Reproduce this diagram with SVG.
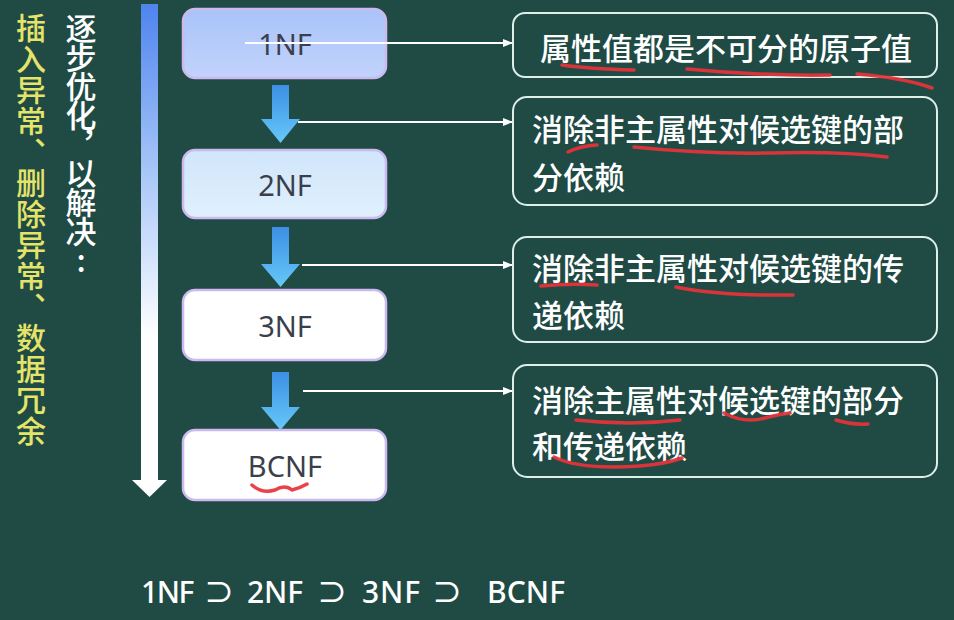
<svg xmlns="http://www.w3.org/2000/svg" width="954" height="620" viewBox="0 0 954 620">
  <defs>
    <linearGradient id="bigArrow" x1="0" y1="0" x2="0" y2="1">
      <stop offset="0" stop-color="#4f84ee"/>
      <stop offset="0.35" stop-color="#a7c6f8"/>
      <stop offset="0.7" stop-color="#ffffff"/>
      <stop offset="1" stop-color="#ffffff"/>
    </linearGradient>
    <linearGradient id="stepArrow" x1="0" y1="0" x2="0" y2="1">
      <stop offset="0" stop-color="#3d8fe4"/>
      <stop offset="1" stop-color="#66c8f8"/>
    </linearGradient>
    <linearGradient id="fill1" x1="0" y1="0" x2="0" y2="1">
      <stop offset="0" stop-color="#a9c3f8"/>
      <stop offset="1" stop-color="#c2d3fc"/>
    </linearGradient>
    <linearGradient id="fill2" x1="0" y1="0" x2="0" y2="1">
      <stop offset="0" stop-color="#d0e6fb"/>
      <stop offset="1" stop-color="#e0f0fd"/>
    </linearGradient>
    <marker id="tip" markerWidth="10" markerHeight="8" refX="9" refY="4" orient="auto" markerUnits="userSpaceOnUse">
      <path d="M0,0 L10,4 L0,8 Z" fill="#ffffff"/>
    </marker>
    <style>
      .nf { stroke: #cbb9f0; stroke-width: 2.5; }
      .nfText { font-family: "Noto Sans", "Open Sans", sans-serif; font-size: 29px; fill: #3b3f4c; text-anchor: middle; }
      .desc { fill: none; stroke: #dcefe8; stroke-width: 2; }
      .descText { font-family: "Noto Sans CJK SC", "Noto Sans", sans-serif; font-size: 31px; font-weight: 500; fill: #ffffff; }
      .link { stroke: #ffffff; stroke-width: 1.8; fill: none; }
      .ink { fill: none; stroke: #e8323a; stroke-width: 3.5; stroke-linecap: round; stroke-linejoin: round; opacity: 0.92; }
      .vert { font-family: "Noto Sans CJK SC", sans-serif; font-weight: 500; writing-mode: vertical-rl; text-orientation: upright; }
      .bottom { font-family: "Noto Sans", "Noto Sans CJK SC", sans-serif; font-size: 30px; font-weight: 500; fill: #ffffff; }
    </style>
  </defs>

  <!-- board background -->
  <rect width="954" height="620" fill="#204b45"/>

  <!-- side captions -->
  <text class="vert" x="31" y="13" font-size="30" fill="#e4e46a" letter-spacing="1">插入异常、删除异常、数据冗余</text>
  <text class="vert" x="81" y="13" font-size="31" fill="#ffffff" letter-spacing="-2">逐步优化，以解决:</text>

  <!-- long progression arrow -->
  <g id="progress">
    <rect x="141" y="4" width="17" height="477" fill="url(#bigArrow)"/>
    <path d="M132,480 L167,480 L149.5,497 Z" fill="#ffffff"/>
  </g>

  <!-- normal-form nodes -->
  <g id="nf1">
    <rect class="nf" x="183" y="9" width="203" height="69" rx="12" fill="url(#fill1)"/>
    <text class="nfText" x="285" y="55">1NF</text>
  </g>
  <g id="nf2">
    <rect class="nf" x="183" y="150" width="203" height="68" rx="12" fill="url(#fill2)"/>
    <text class="nfText" x="285" y="196">2NF</text>
  </g>
  <g id="nf3">
    <rect class="nf" x="183" y="290" width="203" height="70" rx="12" fill="#ffffff"/>
    <text class="nfText" x="285" y="337">3NF</text>
  </g>
  <g id="bcnf">
    <rect class="nf" x="183" y="430" width="203" height="70" rx="12" fill="#ffffff"/>
    <text class="nfText" x="285" y="477">BCNF</text>
  </g>

  <!-- step arrows between nodes -->
  <g id="steps">
    <path d="M272,85 H289 V119 H300 L280.5,143 L261,119 H272 Z" fill="url(#stepArrow)"/>
    <path d="M272,227 H289 V264 H300 L280.5,287 L261,264 H272 Z" fill="url(#stepArrow)"/>
    <path d="M272,372 H289 V407 H300 L280.5,430 L261,407 H272 Z" fill="url(#stepArrow)"/>
  </g>

  <!-- description nodes -->
  <g id="descAtomic">
    <rect class="desc" x="513" y="13" width="424" height="64" rx="12" stroke="#8fc49c"/>
    <text class="descText" x="540" y="60">属性值都是不可分的原子值</text>
  </g>
  <g id="descPartial">
    <rect class="desc" x="513" y="97" width="424" height="108" rx="14"/>
    <text class="descText" x="532" y="141">消除非主属性对候选键的部</text>
    <text class="descText" x="532" y="189">分依赖</text>
  </g>
  <g id="descTransitive">
    <rect class="desc" x="513" y="237" width="424" height="105" rx="14"/>
    <text class="descText" x="532" y="280">消除非主属性对候选键的传</text>
    <text class="descText" x="532" y="327">递依赖</text>
  </g>
  <g id="descBC">
    <rect class="desc" x="513" y="365" width="424" height="112" rx="14"/>
    <text class="descText" x="532" y="412">消除主属性对候选键的部分</text>
    <text class="descText" x="532" y="458">和传递依赖</text>
  </g>

  <!-- connectors -->
  <g id="connectors">
    <line class="link" x1="245" y1="43" x2="512" y2="43" marker-end="url(#tip)"/>
    <line class="link" x1="298" y1="122" x2="512" y2="122" marker-end="url(#tip)"/>
    <line class="link" x1="302" y1="265" x2="512" y2="265" marker-end="url(#tip)"/>
    <line class="link" x1="303" y1="391" x2="512" y2="391" marker-end="url(#tip)"/>
  </g>

  <!-- handwritten red underlines -->
  <g id="annotations">
    <path class="ink" d="M562,65 Q590,69 634,70"/>
    <path class="ink" d="M687,69 Q760,76 830,75"/>
    <path class="ink" d="M857,74 Q905,78 932,88"/>
    <path class="ink" d="M568,152 Q580,146 597,145"/>
    <path class="ink" d="M634,147 Q700,154 770,153 Q840,151 887,157"/>
    <path class="ink" d="M541,286 Q570,283 597,285"/>
    <path class="ink" d="M676,287 Q720,296 793,295"/>
    <path class="ink" d="M576,420 Q630,426 680,420"/>
    <path class="ink" d="M724,413 Q745,424 765,418 Q780,414 790,413"/>
    <path class="ink" d="M836,420 Q852,425 868,424"/>
    <path class="ink" d="M554,457 Q580,470 640,466 Q665,464 682,458"/>
    <path class="ink" d="M252,485 Q262,494 275,490 Q285,484 292,490 Q300,488 307,484" stroke-width="2"/>
  </g>

  <!-- containment chain -->
  <g id="chain">
    <text class="bottom" x="141" y="603" letter-spacing="-1.5">1NF</text>
    <text class="bottom" x="204" y="603">⊃</text>
    <text class="bottom" x="247" y="603" textLength="56">2NF</text>
    <text class="bottom" x="317" y="603">⊃</text>
    <text class="bottom" x="362" y="603" textLength="58">3NF</text>
    <text class="bottom" x="432" y="603">⊃</text>
    <text class="bottom" x="487" y="603" textLength="78">BCNF</text>
  </g>
</svg>
